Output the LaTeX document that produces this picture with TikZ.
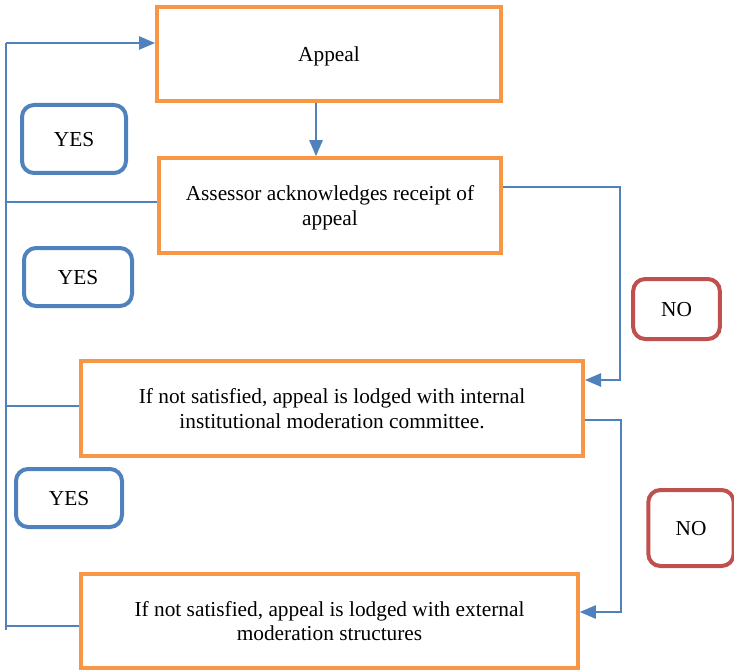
\documentclass[tikz,border=0pt]{standalone}
\usepackage{fontspec}
\setmainfont{Liberation Serif}
\usetikzlibrary{arrows.meta}
\definecolor{obox}{HTML}{F79646}
\definecolor{bbox}{HTML}{4F81BD}
\definecolor{rbox}{HTML}{C0504D}
\begin{document}
\begin{tikzpicture}[x=0.75pt,y=-0.75pt,
  txt/.style={font=\rmfamily\fontsize{16pt}{18.5pt}\selectfont,text depth=0pt},
  stepbox/.style={txt,draw=obox,line width=3pt,align=center,inner sep=0pt},
  yesbox/.style={txt,draw=bbox,line width=3pt,rounded corners=9pt,inner sep=0pt},
  nobox/.style={txt,draw=rbox,line width=3pt,rounded corners=9pt,inner sep=0pt},
  conn/.style={draw=bbox,line width=1.1pt},
  arr/.style={conn,-{Triangle[length=12pt,width=10pt]}}]
\useasboundingbox (0,0) rectangle (734,670);
\node[stepbox,minimum width=258pt,minimum height=70.5pt] (appeal) at (329,54) {Appeal};
\node[stepbox,minimum width=256.5pt,minimum height=71pt] (assessor) at (330,205.5) {Assessor acknowledges receipt of\\appeal};
\node[stepbox,minimum width=376.5pt,minimum height=71pt] (internal) at (332,408.5) {If not satisfied, appeal is lodged with internal\\institutional moderation committee.};
\node[stepbox,minimum width=372.5pt,minimum height=70.5pt] (external) at (329.5,621) {If not satisfied, appeal is lodged with external\\moderation structures};
\node[yesbox,minimum width=78pt,minimum height=51pt] (yes1) at (74,139) {YES};
\node[yesbox,minimum width=81pt,minimum height=43.5pt] (yes2) at (78,277) {YES};
\node[yesbox,minimum width=79.5pt,minimum height=43.5pt] (yes3) at (69,498) {YES};
\node[nobox,minimum width=65pt,minimum height=45pt] (no1) at (676.5,309) {NO};
\node[nobox,minimum width=64pt,minimum height=57pt] (no2) at (691,528) {NO};
% left YES spine
\coordinate (ltop) at (6,43);
\coordinate (lbot) at (6,630);
\coordinate (la) at (6,202);
\coordinate (li) at (6,406);
\coordinate (le) at (6,626);
\draw[conn] (ltop) -- (lbot);
\draw[arr] (ltop) -- (ltop -| appeal.west);
\draw[conn] (la -| assessor.west) -- (la);
\draw[conn] (li -| internal.west) -- (li);
\draw[conn] (le -| external.west) -- (le);
% appeal to assessor
\draw[arr] (appeal.south -| 316,0) -- (assessor.north -| 316,0);
% right NO connectors
\coordinate (r1t) at (620,187);
\coordinate (r1b) at (620,380);
\draw[arr] (r1t -| assessor.east) -- (r1t) -- (r1b) -- (r1b -| internal.east);
\coordinate (r2t) at (621,420);
\coordinate (r2b) at (621,612);
\draw[arr] (r2t -| internal.east) -- (r2t) -- (r2b) -- (r2b -| external.east);
\end{tikzpicture}
\end{document}
